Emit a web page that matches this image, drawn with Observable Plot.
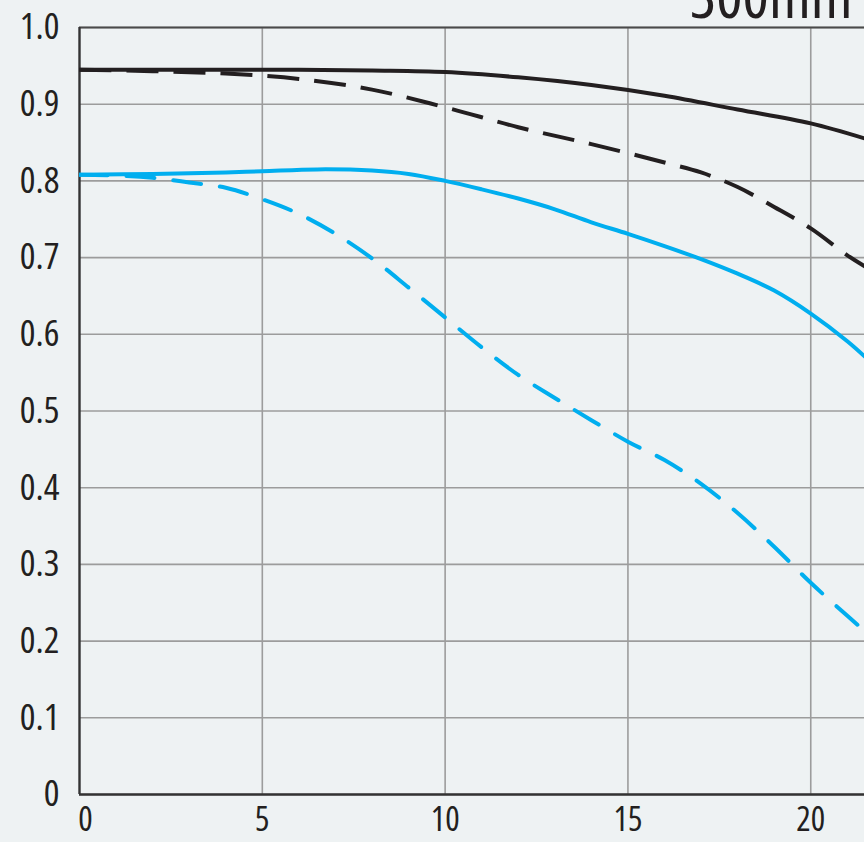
<!DOCTYPE html>
<html>
<head>
<meta charset="utf-8">
<script src="https://cdn.jsdelivr.net/npm/d3@7"></script>
<script src="https://cdn.jsdelivr.net/npm/@observablehq/plot@0.6"></script>
<style>
  html, body { margin: 0; padding: 0; background: #eef2f3; }
  #chart { width: 864px; height: 842px; overflow: hidden; position: relative; }
  #chart svg text { font-stretch: 87.5%; }
</style>
</head>
<body>
<div id="chart"></div>
<script>
// ---- data ----
const title = "300mm";
const xTicks = [5, 10, 15, 20];
const xZeroTick = [0];
const yTicks = [0, 0.1, 0.2, 0.3, 0.4, 0.5, 0.6, 0.7, 0.8, 0.9, 1.0];

const blackSolidX = [0, 2, 4, 6, 8, 10, 12, 14, 16, 18, 20, 21.5];
const blackSolidY = [0.945, 0.945, 0.945, 0.945, 0.944, 0.942, 0.935, 0.925, 0.911, 0.893, 0.875, 0.855];

const blackDashX = [0, 2, 4, 6, 8, 10, 12, 14, 16, 17, 18, 19, 20, 21, 21.5];
const blackDashY = [0.945, 0.943, 0.940, 0.933, 0.919, 0.896, 0.870, 0.848, 0.824, 0.811, 0.792, 0.766, 0.738, 0.703, 0.688];

const blueSolidX = [0, 2, 4, 5, 6.5, 8, 9, 10, 11, 12, 13, 14, 15, 16, 17, 18, 19, 20, 21, 21.5];
const blueSolidY = [0.808, 0.809, 0.811, 0.8125, 0.815, 0.8135, 0.809, 0.800, 0.789, 0.777, 0.763, 0.746, 0.731, 0.715, 0.698, 0.679, 0.657, 0.627, 0.591, 0.570];

const blueDashX = [0, 1, 2, 3, 4, 5, 6, 7, 8, 9, 10, 11, 12, 13, 14, 15, 16, 17, 18, 19, 20, 21, 21.5];
const blueDashY = [0.808, 0.807, 0.804, 0.798, 0.791, 0.776, 0.757, 0.731, 0.699, 0.661, 0.622, 0.583, 0.547, 0.517, 0.488, 0.460, 0.436, 0.405, 0.367, 0.323, 0.276, 0.233, 0.212];

const toRows = (xs, ys) => xs.map((x, i) => ({x, y: ys[i]}));

const BLUE = "#00aeef";
const BLACK = "#231f20";
const GRID = "#9c9c9c";
const FONT = "'Open Sans', 'Noto Sans', sans-serif";

const chart = Plot.plot({
  width: 864,
  height: 842,
  marginLeft: 79,
  marginRight: 0,
  marginTop: 27,
  marginBottom: 48,
  style: {background: "transparent", fontFamily: FONT, fontSize: "37px", color: BLACK, overflow: "visible"},
  x: {domain: [0, 21.47], label: null},
  y: {domain: [0, 1], label: null},
  marks: [
    Plot.gridX(xTicks, {stroke: GRID, strokeOpacity: 1, strokeWidth: 1.6}),
    Plot.gridY(yTicks, {stroke: GRID, strokeOpacity: 1, strokeWidth: 1.6}),
    Plot.axisY(yTicks, {tickSize: 0, tickPadding: 20, tickFormat: d => d === 0 ? "0" : d.toFixed(1), fontSize: 37, fill: BLACK, label: null}),
    Plot.axisX(xTicks, {tickSize: 0, tickPadding: 12, tickFormat: d => String(d), fontSize: 34, fill: BLACK, label: null}),
    Plot.axisX(xZeroTick, {tickSize: 0, tickPadding: 12, dx: 6, tickFormat: d => String(d), fontSize: 34, fill: BLACK, label: null}),
    Plot.ruleY([1], {stroke: "#4a4a4a", strokeWidth: 2.2}),
    Plot.ruleY([0], {stroke: "#333333", strokeWidth: 2.4}),
    Plot.ruleX([0], {stroke: "#333333", strokeWidth: 2.4}),
    Plot.line(toRows(blueDashX, blueDashY), {x: "x", y: "y", stroke: BLUE, strokeWidth: 4, strokeDasharray: "28,19", strokeLinecap: "round", curve: "catmull-rom", clip: true}),
    Plot.line(toRows(blueSolidX, blueSolidY), {x: "x", y: "y", stroke: BLUE, strokeWidth: 4, curve: "catmull-rom", clip: true}),
    Plot.line(toRows(blackDashX, blackDashY), {x: "x", y: "y", stroke: BLACK, strokeWidth: 4, strokeDasharray: "32,15", strokeLinecap: "butt", curve: "catmull-rom", clip: true}),
    Plot.line(toRows(blackSolidX, blackSolidY), {x: "x", y: "y", stroke: BLACK, strokeWidth: 4, curve: "catmull-rom", clip: true}),
    Plot.text([title], {frameAnchor: "top-right", textAnchor: "end", lineAnchor: "bottom", dx: -12, dy: -10, fontSize: 62, fill: BLACK, fontFamily: FONT})
  ]
});
document.getElementById("chart").appendChild(chart);
</script>
</body>
</html>
